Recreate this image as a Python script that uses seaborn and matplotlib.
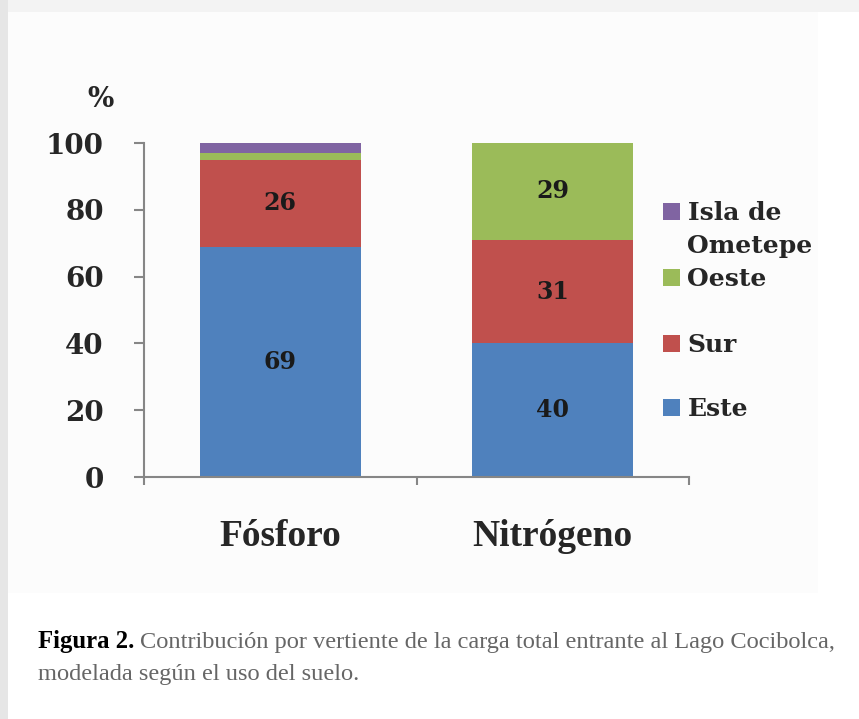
import matplotlib
matplotlib.use('Agg')
import matplotlib.pyplot as plt
import seaborn as sns
import pandas as pd
from matplotlib.patches import Rectangle, Patch

# datos (% de la carga total)
nutrientes = ['Fósforo', 'Nitrógeno']
este = [69, 40]
sur = [26, 31]
oeste = [2, 29]
isla = [3, 0]

series = ['Este', 'Sur', 'Oeste', 'Isla de Ometepe']
colores = ['#4F81BD', '#C0504D', '#9BBB59', '#8064A2']

df = pd.DataFrame({'nutriente': nutrientes, 'Este': este, 'Sur': sur,
                   'Oeste': oeste, 'Isla de Ometepe': isla})

W, H = 859, 719
sns.set_theme(style='white')
plt.rcParams['font.family'] = ['DejaVu Serif', 'DejaVu Sans']

fig = plt.figure(figsize=(W / 100, H / 100), dpi=100)
fig.patch.set_facecolor('white')

# marco de la imagen (fondo y sombra)
fig.patches.append(Rectangle((8 / W, 1 - 593 / H), 810 / W, 581 / H,
                             transform=fig.transFigure, facecolor='#fcfcfc',
                             edgecolor='none', zorder=-3))
fig.patches.append(Rectangle((0, 0), 8 / W, 1, transform=fig.transFigure,
                             facecolor='#e6e6e6', edgecolor='none', zorder=-2))
fig.patches.append(Rectangle((8 / W, 1 - 12 / H), 1, 12 / H,
                             transform=fig.transFigure, facecolor='#f3f3f3',
                             edgecolor='none', zorder=-2))

ax = fig.add_axes([144 / W, 1 - 477 / H, 545 / W, 334 / H])
ax.set_facecolor('none')

# barras apiladas: se dibujan las sumas acumuladas de arriba hacia abajo
acum = df[series].cumsum(axis=1)
for s, c in reversed(list(zip(series, colores))):
    sns.barplot(x=df['nutriente'], y=acum[s], color=c, width=0.59,
                saturation=1, linewidth=0, ax=ax)

# etiquetas de valores
for i in range(len(nutrientes)):
    base = 0
    for s in series:
        v = df[s][i]
        if v >= 10:
            ax.text(i, base + v / 2, str(v), ha='center', va='center',
                    fontsize=17, fontweight='bold', color='#1a1a1a')
        base += v

ax.set_ylim(0, 100)
ax.set_xlim(-0.5, 1.5)
ax.set_yticks([0, 20, 40, 60, 80, 100])
ax.set_xticks([-0.5, 0.5, 1.5], minor=True)
ax.tick_params(axis='y', which='major', length=7, width=1.5, color='#868686',
               labelsize=20, pad=22, left=True, direction='out')
ax.tick_params(axis='x', which='major', length=0, labelsize=27, pad=30)
ax.tick_params(axis='x', which='minor', length=6, width=1.5, color='#868686',
               bottom=True, direction='out')
for lab in ax.get_yticklabels():
    lab.set_fontweight('bold')
for lab in ax.get_xticklabels():
    lab.set_fontweight('bold')
    lab.set_family('Liberation Serif')

for sp in ['top', 'right']:
    ax.spines[sp].set_visible(False)
for sp in ['left', 'bottom']:
    ax.spines[sp].set_color('#868686')
    ax.spines[sp].set_linewidth(1.5)
ax.set_xlabel('')
ax.set_ylabel('%', rotation=0, fontsize=20, fontweight='bold')
ax.yaxis.set_label_coords(-0.079, 1.09)

# leyenda (dos bloques para respetar la separación original)
ph = dict(frameon=False, handlelength=0.68, handleheight=0.68,
          handletextpad=0.3, borderpad=0, borderaxespad=0, loc='upper left',
          prop={'weight': 'bold', 'size': 18})
h_isla = [Patch(facecolor=colores[3], edgecolor='none'),
          Patch(facecolor='none', edgecolor='none'),
          Patch(facecolor=colores[2], edgecolor='none')]
leg1 = fig.legend(h_isla, ['Isla de', 'Ometepe', 'Oeste'],
                  bbox_to_anchor=(663 / W, 1 - 201 / H), labelspacing=0.36, **ph)
h_sur = [Patch(facecolor=colores[1], edgecolor='none'),
         Patch(facecolor=colores[0], edgecolor='none')]
leg2 = fig.legend(h_sur, ['Sur', 'Este'],
                  bbox_to_anchor=(663 / W, 1 - 333 / H), labelspacing=1.6, **ph)

# pie de figura
r = fig.canvas.get_renderer()
t1 = fig.text(38 / W, 1 - 648 / H, 'Figura 2.', fontsize=17.8,
              fontweight='bold', color='black', ha='left', va='baseline',
              family='Liberation Serif')
w = t1.get_window_extent(renderer=r).width
fig.text(38 / W + (w + 6) / W, 1 - 648 / H,
         'Contribución por vertiente de la carga total entrante al Lago Cocibolca,',
         fontsize=17.6, color='#666666', ha='left', va='baseline',
         family='Liberation Serif')
fig.text(38 / W, 1 - 680 / H, 'modelada según el uso del suelo.', fontsize=17.6,
         color='#666666', ha='left', va='baseline', family='Liberation Serif')

fig.savefig('out.png', dpi=100)
